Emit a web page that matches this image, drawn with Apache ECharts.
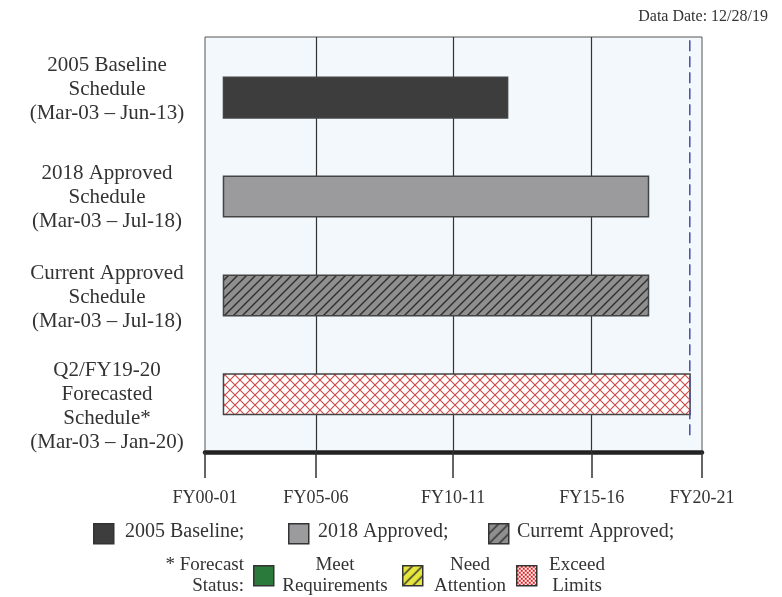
<!DOCTYPE html>
<html><head><meta charset="utf-8">
<script src="https://cdn.jsdelivr.net/npm/echarts@6/dist/echarts.min.js"></script>
<style>html,body{margin:0;padding:0;background:#fff}#c{width:782px;height:597px}</style>
</head><body><div id="c"></div>
<script>
// ---------------- DATA ----------------
const rowLabels = [
  '2005 Baseline\nSchedule\n(Mar-03 – Jun-13)',
  '2018 Approved\nSchedule\n(Mar-03 – Jul-18)',
  'Current Approved\nSchedule\n(Mar-03 – Jul-18)',
  'Q2/FY19-20\nForecasted\nSchedule*\n(Mar-03 – Jan-20)'
];
const startMonths = ['Mar-03', 'Mar-03', 'Mar-03', 'Mar-03'];
const endMonths   = ['Jun-13', 'Jul-18', 'Jul-18', 'Jan-20'];
const tickValues  = [2002.5, 2006.5, 2011.45, 2016.45, 2020.43]; // decimal years
const tickLabels  = ['FY00-01', 'FY05-06', 'FY10-11', 'FY15-16', 'FY20-21'];
const dataDateStr = '12/28/19';
const legendRow1  = ['2005 Baseline;', '2018 Approved;', 'Curremt Approved;'];
const legendRow2  = ['Meet\nRequirements', 'Need\nAttention', 'Exceed\nLimits'];
const legendRow2Title = '* Forecast\nStatus:';

// ---------------- HELPERS ----------------
const MONTHS = ['Jan','Feb','Mar','Apr','May','Jun','Jul','Aug','Sep','Oct','Nov','Dec'];
function monthToYear(s) {
  const [m, y] = s.split('-');
  return 2000 + parseInt(y, 10) + MONTHS.indexOf(m) / 12;
}
function dateToYear(s) {
  const [m, d, y] = s.split('/').map(Number);
  const dt = new Date(2000 + y, m - 1, d);
  const start = new Date(2000 + y, 0, 1);
  return 2000 + y + (dt - start) / (365 * 86400000);
}
const starts = startMonths.map(monthToYear);
const ends = endMonths.map(monthToYear);
const dataDate = dateToYear(dataDateStr);

// ---------------- STYLE ----------------
const SERIF = '"Liberation Serif", "DejaVu Serif", serif';
const Y_MIN = -0.613, Y_MAX = 3.583, BAR_H = 0.41;
const LABEL_SHIFT = [-0.087, 0.005, 0.02, 0.123];

function makePattern(w, h, draw) {
  const c = document.createElement('canvas');
  c.width = w; c.height = h;
  const ctx = c.getContext('2d');
  draw(ctx, w, h);
  return { image: c, repeat: 'repeat' };
}
function hatch(bg, fg, p, lw) {
  return makePattern(p, p, (ctx, w, h) => {
    ctx.fillStyle = bg; ctx.fillRect(0, 0, w, h);
    ctx.strokeStyle = fg; ctx.lineWidth = lw;
    ctx.beginPath();
    ctx.moveTo(-1, h + 1); ctx.lineTo(w + 1, -1);
    ctx.moveTo(-1, 1); ctx.lineTo(1, -1);
    ctx.moveTo(w - 1, h + 1); ctx.lineTo(w + 1, h - 1);
    ctx.stroke();
  });
}
const crossHatch = makePattern(10, 10, (ctx, w, h) => {
  ctx.fillStyle = '#ffffff'; ctx.fillRect(0, 0, w, h);
  ctx.strokeStyle = '#d24848'; ctx.lineWidth = 1.1;
  ctx.beginPath();
  ctx.moveTo(0, 0); ctx.lineTo(w, h);
  ctx.moveTo(w, 0); ctx.lineTo(0, h);
  ctx.stroke();
});
const checker = makePattern(4, 4, (ctx) => {
  ctx.fillStyle = '#ffffff'; ctx.fillRect(0, 0, 4, 4);
  ctx.fillStyle = '#e82020';
  ctx.fillRect(0, 0, 2, 2); ctx.fillRect(2, 2, 2, 2);
});
const FILLS = ['#3d3d3d', '#9b9b9e', hatch('#8f8f8f', '#2e2e2e', 9, 1.4), crossHatch];

// ---------------- CHART ----------------
const chart = echarts.init(document.getElementById('c'), null, { renderer: 'canvas' });

const legendGraphics = [];
const lg1 = [
  { x: 93,  fill: FILLS[0], tx: 125 },
  { x: 288, fill: FILLS[1], tx: 318 },
  { x: 488, fill: hatch('#8f8f8f', '#333333', 10, 1.5), tx: 517 }
];
lg1.forEach((g, i) => {
  legendGraphics.push({ type: 'rect', left: g.x, top: 523, shape: { width: 20, height: 20 },
    style: { fill: g.fill, stroke: '#333', lineWidth: 1.5 } });
  legendGraphics.push({ type: 'text', left: g.tx, top: 522,
    style: { text: legendRow1[i], font: '20px ' + SERIF, fill: '#333' } });
});
legendGraphics.push({ type: 'text', x: 244, y: 555,
  style: { text: legendRow2Title, font: '19px ' + SERIF, fill: '#333', align: 'right', lineHeight: 21 } });
const lg2 = [
  { x: 253, fill: '#2a7a3b', cx: 335 },
  { x: 402, fill: hatch('#e6e63c', '#333333', 10, 1.5), cx: 470 },
  { x: 516, fill: checker, cx: 577 }
];
lg2.forEach((g, i) => {
  legendGraphics.push({ type: 'rect', left: g.x, top: 565, shape: { width: 20, height: 20 },
    style: { fill: g.fill, stroke: '#333', lineWidth: 1.5 } });
  legendGraphics.push({ type: 'text', x: g.cx, y: 555,
    style: { text: legendRow2[i], font: '19px ' + SERIF, fill: '#333', align: 'center', lineHeight: 21 } });
});

const option = {
  animation: false,
  backgroundColor: '#ffffff',
  grid: { left: 205, right: 80, top: 37, bottom: 145, show: true,
    backgroundColor: '#f3f8fc', borderColor: '#555', borderWidth: 1 },
  xAxis: {
    type: 'value', min: tickValues[0], max: tickValues[tickValues.length - 1],
    axisLine: { show: true, onZero: false, lineStyle: { color: '#222', width: 4.5 } },
    axisTick: { show: true, length: 26, customValues: tickValues, lineStyle: { color: '#333', width: 1.5 } },
    axisLabel: { customValues: tickValues, margin: 37, color: '#333',
      fontFamily: SERIF, fontSize: 18,
      formatter: (v) => {
        let best = 0;
        tickValues.forEach((t, i) => { if (Math.abs(t - v) < Math.abs(tickValues[best] - v)) best = i; });
        return tickLabels[best];
      } },
    splitLine: { show: false }
  },
  yAxis: {
    type: 'value', inverse: true, min: Y_MIN, max: Y_MAX,
    axisLine: { show: false }, axisTick: { show: false }, splitLine: { show: false },
    axisLabel: {
      customValues: rowLabels.map((_, i) => i + LABEL_SHIFT[i]),
      formatter: (v) => rowLabels[Math.round(v)],
      align: 'center', margin: 98, color: '#333',
      fontFamily: SERIF, fontSize: 21, lineHeight: 24
    }
  },
  graphic: [
    { type: 'text', right: 14, top: 9,
      style: { text: 'Data Date: ' + dataDateStr, font: '16px ' + SERIF, fill: '#333' } },
    ...legendGraphics
  ],
  series: [
    {
      type: 'line', data: [], z: 1, silent: true,
      markLine: { z: 1, symbol: 'none', silent: true, animation: false, label: { show: false },
        lineStyle: { color: '#333', width: 1.2, type: 'solid' },
        data: tickValues.slice(1, -1).map(v => ({ xAxis: v })) }
    },
    {
      type: 'custom', z: 3,
      encode: { x: [1, 2], y: 0 },
      data: rowLabels.map((_, i) => [i, starts[i], ends[i]]),
      renderItem: (params, api) => {
        const i = api.value(0);
        const p0 = api.coord([api.value(1), i]);
        const p1 = api.coord([api.value(2), i]);
        const h = Math.abs(api.size([0, BAR_H])[1]);
        return { type: 'rect',
          shape: { x: p0[0], y: p0[1] - h / 2, width: p1[0] - p0[0], height: h },
          style: { fill: FILLS[i], stroke: '#444', lineWidth: 1.5 } };
      }
    },
    {
      type: 'line', z: 4, silent: true, symbol: 'none',
      data: [[dataDate, -0.58], [dataDate, 3.46]],
      lineStyle: { color: '#5252b0', width: 1.6, type: [11, 5] }
    }
  ]
};
chart.setOption(option);
</script>
</body></html>
